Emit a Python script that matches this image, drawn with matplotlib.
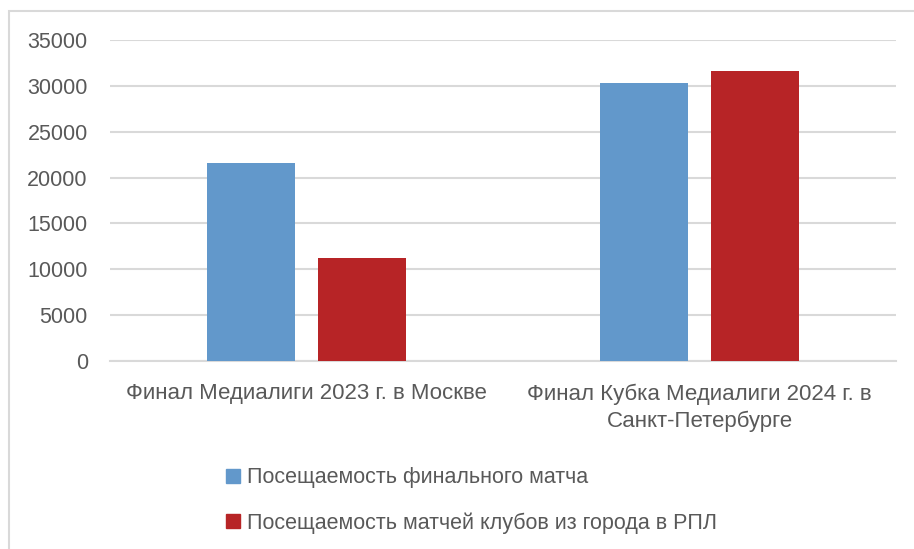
import matplotlib
matplotlib.use("Agg")
import matplotlib.pyplot as plt
import numpy as np
from matplotlib.patches import Rectangle, Patch

# --- data ---
categories = [
    "Финал Медиалиги 2023 г. в Москве",
    "Финал Кубка Медиалиги 2024 г. в\nСанкт-Петербурге",
]
series_names = [
    "Посещаемость финального матча",
    "Посещаемость матчей клубов из города в РПЛ",
]
final_attendance = [21600, 30300]
rpl_attendance = [11200, 31650]
y_ticks = [0, 5000, 10000, 15000, 20000, 25000, 30000, 35000]

BLUE = "#6298CB"
RED = "#B72426"
TEXT = "#595959"
GRID = "#D9D9D9"
FS = 15.5

plt.rcParams["font.family"] = ["Liberation Sans", "DejaVu Sans"]

fig = plt.figure(figsize=(9.14, 5.49), dpi=100)
W, H = 914, 549

# outer chart frame (light gray)
fig.patches.append(Rectangle((9 / W, -0.1), 1.2, 1 - 11 / H + 0.1,
                             transform=fig.transFigure, fill=False,
                             edgecolor=GRID, linewidth=1.5))

ax = fig.add_axes([110 / W, 1 - 361 / H, 786 / W, 321 / H])

x = np.arange(len(categories))
bw = 0.224
off = 0.142
ax.bar(x - off, final_attendance, width=bw, color=BLUE, zorder=3)
ax.bar(x + off, rpl_attendance, width=bw, color=RED, zorder=3)

ax.set_xlim(-0.5, 1.5)
ax.set_ylim(0, 35000)
ax.set_yticks(y_ticks)
ax.set_yticklabels([str(v) for v in y_ticks], fontsize=FS, color=TEXT)
ax.tick_params(axis="y", length=0, pad=16)
ax.set_xticks(x)
ax.set_xticklabels(categories, fontsize=16, color=TEXT, linespacing=1.4)
ax.tick_params(axis="x", length=0, pad=16)

ax.grid(axis="y", color=GRID, linewidth=1.5, zorder=0)
ax.set_axisbelow(True)
for s in ["top", "right", "left"]:
    ax.spines[s].set_visible(False)
ax.spines["bottom"].set_color(GRID)
ax.spines["bottom"].set_linewidth(1.5)

handles = [Patch(color=BLUE), Patch(color=RED)]
fig.legend(handles, series_names, loc="upper left",
           bbox_to_anchor=(207 / W, 1 - 448 / H), frameon=False,
           fontsize=FS, labelcolor=TEXT, handlelength=0.65,
           handleheight=0.65, handletextpad=0.3, labelspacing=1.1)

fig.savefig("out.png", dpi=100)
